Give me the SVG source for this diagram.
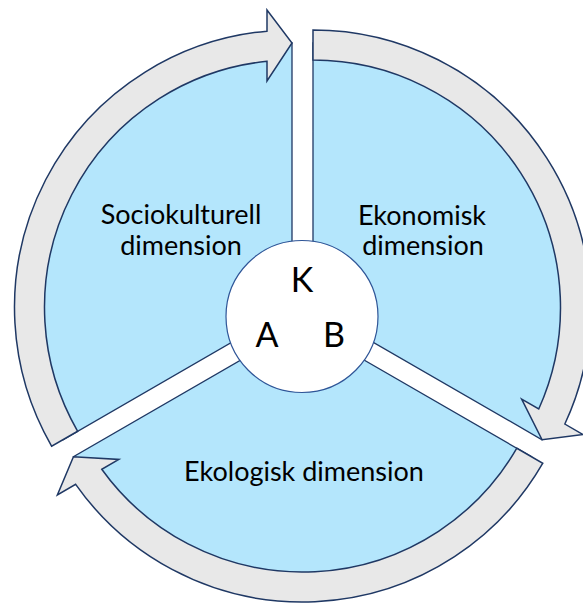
<svg xmlns="http://www.w3.org/2000/svg" width="583" height="603" viewBox="0 0 583 603">
  <defs>
    <style>
      .sector { fill: #B4E6FC; stroke: #1F3864; stroke-width: 1.3; stroke-linejoin: miter; }
      .arrow { fill: #E8E8E8; stroke: #1F3864; stroke-width: 1.5; stroke-linejoin: miter; }
      .core { fill: #FFFFFF; stroke: #2F5597; stroke-width: 1.2; }
      .label { font-family: Lato, "Liberation Sans", sans-serif; font-size: 27px; fill: #000; text-anchor: middle; }
      .letter { font-family: Lato, "Liberation Sans", sans-serif; font-size: 34px; fill: #000; text-anchor: middle; }
    </style>
    <path id="sectorShape" d="M 0 0 L -229.06 132.25 A 264.5 264.5 0 0 1 0 -264.5 Z"/>
    <path id="arrowShape" d="M -214.34 123.75 L -240.32 138.75 A 277.5 277.5 0 0 1 -25 -276.37 L -25 -297.5 L 0 -264.5 L -25 -226.5 L -25 -246.23 A 247.5 247.5 0 0 0 -214.34 123.75 Z"/>
  </defs>

  <g id="sociokulturell">
    <use href="#sectorShape" class="sector" transform="translate(292,307.5)"/>
    <text class="label" x="181" y="224">Sociokulturell</text>
    <text class="label" x="181" y="255">dimension</text>
  </g>

  <g id="ekonomisk">
    <use href="#sectorShape" class="sector" transform="translate(313,307.5) rotate(120)"/>
    <text class="label" x="422" y="225">Ekonomisk</text>
    <text class="label" x="423" y="255">dimension</text>
  </g>

  <g id="ekologisk">
    <use href="#sectorShape" class="sector" transform="translate(302.5,324.5) rotate(240)"/>
    <text class="label" x="304" y="481">Ekologisk dimension</text>
  </g>

  <g id="connectors">
    <use href="#arrowShape" class="arrow" transform="translate(292,307.5)"/>
    <use href="#arrowShape" class="arrow" transform="translate(313,307.5) rotate(120)"/>
    <use href="#arrowShape" class="arrow" transform="translate(302.5,324.5) rotate(240)"/>
  </g>

  <g id="core">
    <circle class="core" cx="302" cy="316.5" r="76"/>
    <text class="letter" x="302" y="292">K</text>
    <text class="letter" x="267" y="347">A</text>
    <text class="letter" x="334" y="347">B</text>
  </g>
</svg>
